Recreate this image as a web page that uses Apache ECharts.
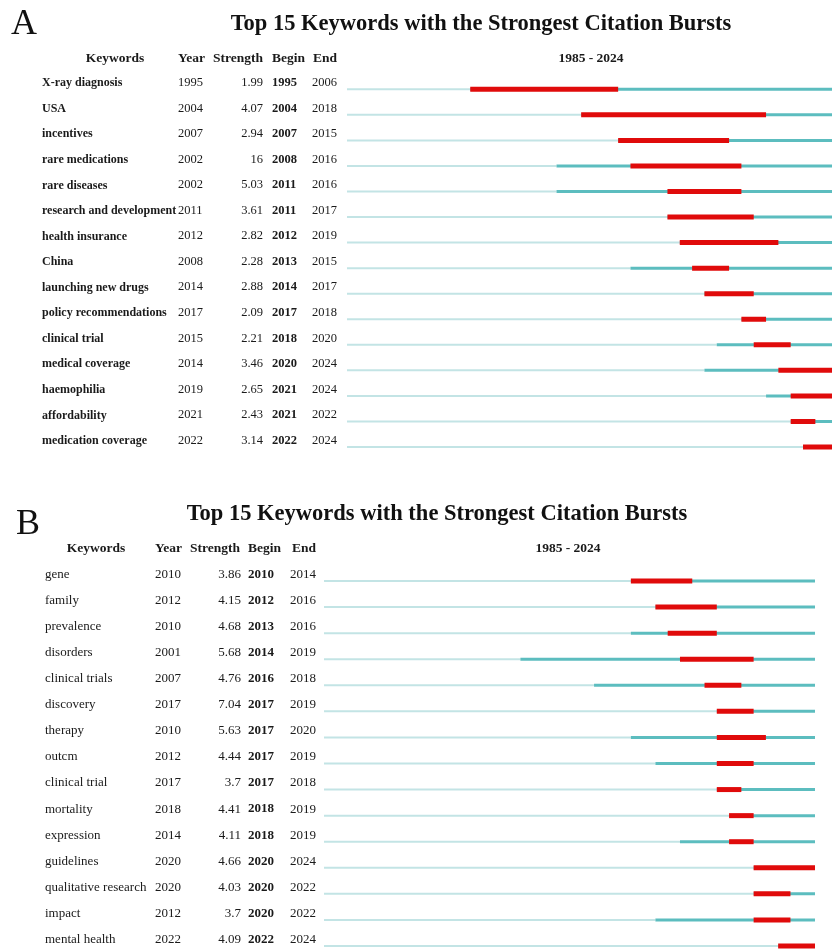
<!DOCTYPE html>
<html>
<head>
<meta charset="utf-8">
<script src="https://cdn.jsdelivr.net/npm/echarts@6/dist/echarts.min.js"></script>
<style>
  html, body { margin: 0; padding: 0; background: #fff; }
  #chart { width: 832px; height: 949px; }
</style>
</head>
<body>
<div id="chart"></div>
<script>
// time slice shown in both panels
const rangeStart = 1985;
const rangeEnd = 2024;

// panel A
const keywordsA = ['X-ray diagnosis', 'USA', 'incentives', 'rare medications', 'rare diseases',
    'research and development', 'health insurance', 'China', 'launching new drugs',
    'policy recommendations', 'clinical trial', 'medical coverage', 'haemophilia',
    'affordability', 'medication coverage'];
const yearA = [1995, 2004, 2007, 2002, 2002, 2011, 2012, 2008, 2014, 2017, 2015, 2014, 2019, 2021, 2022];
const strengthA = [1.99, 4.07, 2.94, 16, 5.03, 3.61, 2.82, 2.28, 2.88, 2.09, 2.21, 3.46, 2.65, 2.43, 3.14];
const beginA = [1995, 2004, 2007, 2008, 2011, 2011, 2012, 2013, 2014, 2017, 2018, 2020, 2021, 2021, 2022];
const endA = [2006, 2018, 2015, 2016, 2016, 2017, 2019, 2015, 2017, 2018, 2020, 2024, 2024, 2022, 2024];

// panel B
const keywordsB = ['gene', 'family', 'prevalence', 'disorders', 'clinical trials', 'discovery',
    'therapy', 'outcm', 'clinical trial', 'mortality', 'expression', 'guidelines',
    'qualitative research', 'impact', 'mental health'];
const yearB = [2010, 2012, 2010, 2001, 2007, 2017, 2010, 2012, 2017, 2018, 2014, 2020, 2020, 2012, 2022];
const strengthB = [3.86, 4.15, 4.68, 5.68, 4.76, 7.04, 5.63, 4.44, 3.7, 4.41, 4.11, 4.66, 4.03, 3.7, 4.09];
const beginB = [2010, 2012, 2013, 2014, 2016, 2017, 2017, 2017, 2017, 2018, 2018, 2020, 2020, 2020, 2022];
const endB = [2014, 2016, 2016, 2019, 2018, 2019, 2020, 2019, 2018, 2019, 2019, 2024, 2022, 2022, 2024];

const serif = '"Liberation Serif", "Times New Roman", serif';
const thinColor = '#c3e4e5';
const teal = '#5cbdbf';
const red = '#e00b0b';

function panel(idx, gridPos, cols, kwBold, kwSize, numSize, kw, yr, st, bg, en) {
    const left = gridPos.left;
    const base = {
        type: 'category', gridIndex: idx, inverse: true, position: 'left',
        axisLine: { show: false }, axisTick: { show: false }, splitLine: { show: false }
    };
    const lab = (margin, align, bold, size) => ({
        interval: 0, margin: left - margin, align: align, verticalAlign: 'bottom',
        fontFamily: serif, fontSize: size, fontWeight: bold ? 'bold' : 'normal', color: '#1a1a1a'
    });
    const yAxes = [
        Object.assign({}, base, { data: kw, axisLabel: lab(cols.kw, 'left', kwBold, kwSize) }),
        Object.assign({}, base, { data: yr.map(String), axisLabel: lab(cols.year, 'left', false, numSize) }),
        Object.assign({}, base, { data: st.map(String), axisLabel: lab(cols.strength, 'right', false, numSize) }),
        Object.assign({}, base, { data: bg.map(String), axisLabel: lab(cols.begin, 'left', true, numSize) }),
        Object.assign({}, base, { data: en.map(String), axisLabel: lab(cols.end, 'left', false, numSize) })
    ];
    const data = kw.map((k, i) => [i, yr[i], bg[i], en[i]]);
    const series = {
        type: 'custom',
        xAxisIndex: idx,
        yAxisIndex: idx * 5,
        clip: true,
        silent: true,
        data: data,
        renderItem: function (params, api) {
            const row = api.value(0);
            const y0 = api.coord([rangeStart, row]);
            const y1 = api.coord([api.value(1), row]);
            const y2 = api.coord([rangeEnd + 1, row]);
            const b0 = api.coord([api.value(2), row]);
            const b1 = api.coord([api.value(3) + 1, row]);
            return {
                type: 'group',
                children: [
                    { type: 'line', shape: { x1: y0[0], y1: y0[1], x2: y1[0], y2: y1[1] },
                      style: { stroke: thinColor, lineWidth: 2 } },
                    { type: 'line', shape: { x1: y1[0], y1: y1[1], x2: y2[0], y2: y2[1] },
                      style: { stroke: teal, lineWidth: 3 } },
                    { type: 'line', shape: { x1: b0[0], y1: b0[1], x2: b1[0], y2: b1[1] },
                      style: { stroke: red, lineWidth: 5 } }
                ]
            };
        }
    };
    return {
        grid: Object.assign({ outerBoundsMode: 'none', containLabel: false }, gridPos),
        xAxis: { type: 'value', gridIndex: idx, min: rangeStart, max: rangeEnd + 1, show: false },
        yAxes: yAxes,
        series: series
    };
}

const pA = panel(0, { left: 347, top: 76.5, width: 493, height: 383.3 },
    { kw: 42, year: 178, strength: 263, begin: 272, end: 312 }, true, 12, 12.5,
    keywordsA, yearA, strengthA, beginA, endA);
const pB = panel(1, { left: 324, top: 568, width: 491, height: 391 },
    { kw: 45, year: 155, strength: 241, begin: 248, end: 290 }, false, 13, 13,
    keywordsB, yearB, strengthB, beginB, endB);

function headers(y, cols, rangeX) {
    const t = (x, text, align) => ({
        type: 'text', x: x, y: y,
        style: { text: text, align: align || 'left', verticalAlign: 'middle',
                 font: 'bold 13.5px ' + serif, fill: '#1a1a1a' }
    });
    return [
        t(cols.kwC, 'Keywords', 'center'),
        t(cols.year, 'Year'),
        t(cols.strength, 'Strength'),
        t(cols.begin, 'Begin'),
        t(cols.end, 'End'),
        t(rangeX, rangeStart + ' - ' + rangeEnd, 'center')
    ];
}

const chart = echarts.init(document.getElementById('chart'));
chart.setOption({
    backgroundColor: '#fff',
    animation: false,
    title: [
        { text: 'Top 15 Keywords with the Strongest Citation Bursts', left: 476, top: 8, textAlign: 'center',
          textStyle: { fontFamily: serif, fontSize: 22.5, fontWeight: 'bold', color: '#111' } },
        { text: 'Top 15 Keywords with the Strongest Citation Bursts', left: 432, top: 498, textAlign: 'center',
          textStyle: { fontFamily: serif, fontSize: 22.5, fontWeight: 'bold', color: '#111' } }
    ],
    grid: [pA.grid, pB.grid],
    xAxis: [pA.xAxis, pB.xAxis],
    yAxis: pA.yAxes.concat(pB.yAxes),
    series: [pA.series, pB.series],
    graphic: [
        { type: 'text', x: 11, y: 25, style: { text: 'A', font: '36px ' + serif, fill: '#111', verticalAlign: 'middle' } },
        { type: 'text', x: 16, y: 525, style: { text: 'B', font: '36px ' + serif, fill: '#111', verticalAlign: 'middle' } }
    ].concat(
        headers(59, { kwC: 115, year: 178, strength: 213, begin: 272, end: 313 }, 591),
        headers(549, { kwC: 96, year: 155, strength: 190, begin: 248, end: 292 }, 568)
    )
});
</script>
</body>
</html>
